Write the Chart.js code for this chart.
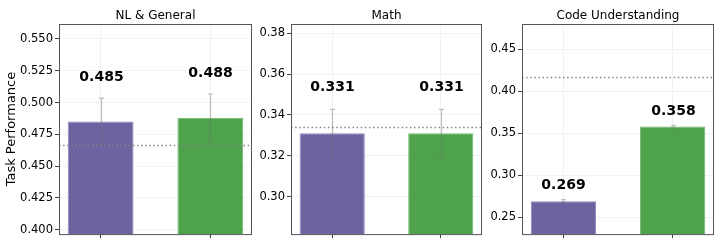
<!DOCTYPE html>
<html>
<head>
<meta charset="utf-8">
<script src="https://cdn.jsdelivr.net/npm/chart.js@4.4.1/dist/chart.umd.min.js"></script>
<style>
  html, body { margin: 0; padding: 0; background: #fff; }
  #wrap { position: relative; width: 718px; height: 243px; }
  .panel { position: absolute; top: 0; height: 243px; }
</style>
</head>
<body>
<div id="wrap">
  <div class="panel" style="left:0;width:256px"><canvas id="c0"></canvas></div>
  <div class="panel" style="left:256px;width:230px"><canvas id="c1"></canvas></div>
  <div class="panel" style="left:486px;width:232px"><canvas id="c2"></canvas></div>
</div>
<script>
// data
const panelTitles = ['NL & General', 'Math', 'Code Understanding'];
const methods = ['Method A', 'Method B'];
const scoreA = [0.485, 0.331, 0.269];
const scoreB = [0.488, 0.331, 0.358];
const errA = [0.0185, 0.0117, 0.002];
const errB = [0.0187, 0.0117, 0.0015];
const refLine = [0.4665, 0.334, 0.4168];
const yMin = [0.3966, 0.2816, 0.2299];
const yMax = [0.5617, 0.3845, 0.48];
const yStep = [0.025, 0.02, 0.05];
const yDecimals = [3, 2, 2];

// layout bits (pixels)
const axisWidth = [59, 35, 36];
const labelGap = [20.5, 22, 14];
const barColors = ['#6c64a1', '#4ea24c'];
const barEdges = ['#8c86b9', '#6db86b'];

const FONT = "'DejaVu Sans', sans-serif";

// draws frame, reference line, error bars, value labels, title
const extras = {
  id: 'extras',
  afterDatasetsDraw(chart, args, opts) {
    const ctx = chart.ctx;
    const area = chart.chartArea;
    const x = chart.scales.x, y = chart.scales.y;
    const p = opts.panel;

    ctx.save();
    // dotted reference line
    ctx.beginPath();
    ctx.rect(area.left, area.top, area.right - area.left, area.bottom - area.top);
    ctx.clip();
    const ry = Math.round(y.getPixelForValue(refLine[p])) + 0.5;
    ctx.strokeStyle = '#858585';
    ctx.lineWidth = 1.5;
    ctx.setLineDash([1.5, 2.6]);
    ctx.beginPath();
    ctx.moveTo(area.left, ry);
    ctx.lineTo(area.right, ry);
    ctx.stroke();
    ctx.restore();

    // error bars + labels
    const vals = [scoreA[p], scoreB[p]];
    const errs = [errA[p], errB[p]];
    ctx.save();
    vals.forEach((v, i) => {
      const cx = Math.round(x.getPixelForValue(i)) + 0.5;
      const top = y.getPixelForValue(v + errs[i]);
      const bot = y.getPixelForValue(v - errs[i]);
      ctx.strokeStyle = 'rgba(110,110,110,0.45)';
      ctx.lineWidth = 1.2;
      ctx.beginPath();
      ctx.moveTo(cx, top); ctx.lineTo(cx, bot);
      ctx.moveTo(cx - 2.5, top); ctx.lineTo(cx + 2.5, top);
      ctx.moveTo(cx - 2.5, bot); ctx.lineTo(cx + 2.5, bot);
      ctx.stroke();

      ctx.fillStyle = '#000';
      ctx.font = 'bold 14px ' + FONT;
      ctx.textAlign = 'center';
      ctx.textBaseline = 'middle';
      ctx.fillText(v.toFixed(3), cx, top - labelGap[p]);
    });

    // frame
    ctx.strokeStyle = '#555';
    ctx.lineWidth = 1;
    ctx.strokeRect(area.left + 0.5, area.top + 0.5, area.right - area.left - 1, area.bottom - area.top);

    // title
    ctx.fillStyle = '#000';
    ctx.font = '12px ' + FONT;
    ctx.textAlign = 'center';
    ctx.textBaseline = 'middle';
    ctx.fillText(panelTitles[p], (area.left + area.right) / 2, area.top - 8);
    ctx.restore();
  }
};

function makePanel(p) {
  const ctx = document.getElementById('c' + p);
  return new Chart(ctx, {
    type: 'bar',
    data: {
      datasets: [{
        label: panelTitles[p],
        data: [
          { x: 0, y: scoreA[p] },
          { x: 1, y: scoreB[p] }
        ],
        backgroundColor: barColors,
        borderColor: barEdges,
        borderWidth: 1,
        categoryPercentage: 1,
        barPercentage: 0.6
      }]
    },
    options: {
      responsive: true,
      maintainAspectRatio: false,
      animation: false,
      layout: { padding: { top: 24, right: 4, left: 0, bottom: 0 } },
      plugins: {
        legend: { display: false },
        tooltip: { enabled: false },
        extras: { panel: p }
      },
      scales: {
        x: {
          type: 'linear',
          min: -0.38,
          max: 1.38,
          offset: false,
          grid: { offset: false, color: '#f2f2f2', tickColor: '#444', tickLength: 4, drawTicks: true },
          border: { display: false },
          ticks: { stepSize: 1, includeBounds: false, display: false },
          afterFit(scale) { scale.height = 8; }
        },
        y: {
          min: yMin[p],
          max: yMax[p],
          grid: { color: '#f2f2f2', tickColor: '#444', tickLength: 4 },
          border: { display: false },
          ticks: {
            stepSize: yStep[p],
            includeBounds: false,
            padding: 2,
            color: '#000',
            font: { family: FONT, size: 11.5 },
            callback: v => Number(v).toFixed(yDecimals[p])
          },
          title: {
            display: p === 0,
            text: 'Task Performance',
            color: '#000',
            font: { family: FONT, size: 13 },
            padding: { top: 4, bottom: 0 }
          },
          afterFit(scale) { scale.width = axisWidth[p]; }
        }
      }
    },
    plugins: [extras]
  });
}

[0, 1, 2].forEach(makePanel);
</script>
</body>
</html>
